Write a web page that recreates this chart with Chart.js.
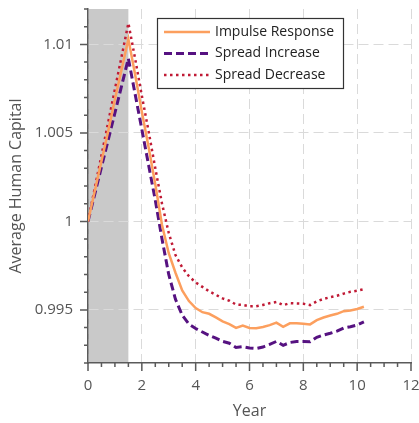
<!DOCTYPE html>
<html>
<head>
<meta charset="utf-8">
<script src="https://cdn.jsdelivr.net/npm/chart.js@4"></script>
<style>
  html, body { margin: 0; padding: 0; background: #fff; }
</style>
</head>
<body>
<canvas id="chart" width="419" height="423"></canvas>
<script>
// quarterly time points (years)
const years = [0, 0.25, 0.5, 0.75, 1, 1.25, 1.5, 1.75, 2, 2.25, 2.5, 2.75, 3, 3.25, 3.5, 3.75,
  4, 4.25, 4.5, 4.75, 5, 5.25, 5.5, 5.75, 6, 6.25, 6.5, 6.75, 7, 7.25, 7.5, 7.75,
  8, 8.25, 8.5, 8.75, 9, 9.25, 9.5, 9.75, 10, 10.25];

const impulseResponse = [1, 1.0017, 1.0034, 1.0051, 1.0069, 1.0086, 1.0103, 1.0083, 1.0062, 1.0042,
  1.0021, 0.9998, 0.9982, 0.9971, 0.9961, 0.9955, 0.9951, 0.99487, 0.99478, 0.99458, 0.99435,
  0.9942, 0.99398, 0.99412, 0.99398, 0.99396, 0.99403, 0.99414, 0.99428, 0.99404, 0.99424,
  0.99425, 0.99422, 0.99418, 0.99442, 0.99457, 0.99468, 0.99478, 0.99493, 0.99497, 0.99505, 0.99518];

const spreadIncrease = [1, 1.00153, 1.00307, 1.0046, 1.00613, 1.00767, 1.0092, 1.0072, 1.0052, 1.0032,
  1.0012, 0.999, 0.997, 0.9956, 0.9947, 0.9942, 0.99395, 0.99375, 0.99356, 0.9934, 0.99322,
  0.99312, 0.99288, 0.99292, 0.99285, 0.99282, 0.9929, 0.99305, 0.99322, 0.993, 0.99316,
  0.99322, 0.99322, 0.9932, 0.99345, 0.99358, 0.99368, 0.9938, 0.99398, 0.99405, 0.99415, 0.99432];

const spreadDecrease = [1, 1.00187, 1.00373, 1.0056, 1.00747, 1.00933, 1.0112, 1.0092, 1.0071, 1.0051,
  1.003, 1.001, 0.99935, 0.9981, 0.9974, 0.9969, 0.99655, 0.9963, 0.99605, 0.99585, 0.99565,
  0.99552, 0.9953, 0.99528, 0.9952, 0.99521, 0.99528, 0.99538, 0.99545, 0.99527, 0.99538,
  0.99536, 0.99535, 0.99527, 0.99548, 0.99562, 0.99572, 0.9958, 0.99592, 0.99602, 0.99608, 0.99617];

const seriesLabels = ["Impulse Response", "Spread Increase", "Spread Decrease"];
const xTicks = [0, 2, 4, 6, 8, 10, 12];
const yTicks = [0.995, 1, 1.005, 1.01];
const shadedYears = [0, 1.5];

const FONT = "'Open Sans', 'Noto Sans', sans-serif";
const AXIS_COLOR = "#5a5a5a";

function toPoints(vals) {
  return vals.map((v, i) => ({ x: years[i], y: v }));
}

// no extra room for overhanging tick labels, the plot box is fixed by layout padding
function noLabelPadding(s) {
  s.paddingTop = 0;
  s.paddingBottom = 0;
  s.paddingLeft = 0;
  s.paddingRight = 0;
}

// grey band, minor/major tick marks and the boxed legend
const decorations = {
  id: "decorations",
  beforeDraw(chart) {
    const { ctx, chartArea: a, scales: { x } } = chart;
    const x0 = x.getPixelForValue(shadedYears[0]);
    const x1 = x.getPixelForValue(shadedYears[1]);
    ctx.save();
    ctx.fillStyle = "#c9c9c9";
    ctx.fillRect(x0, a.top, x1 - x0, a.bottom - a.top);
    ctx.restore();
  },
  afterDraw(chart) {
    const { ctx, chartArea: a, scales: { x, y } } = chart;
    ctx.save();
    ctx.strokeStyle = AXIS_COLOR;
    ctx.lineWidth = 1.5;
    ctx.beginPath();
    // x ticks every half year, long ones at labelled years
    for (let i = 0; i <= 24; i++) {
      const px = x.getPixelForValue(i * 0.5);
      const len = i % 4 === 0 ? 8 : 4;
      ctx.moveTo(px, a.bottom);
      ctx.lineTo(px, a.bottom + len);
    }
    // y ticks every 0.001
    for (let k = 992; k <= 1012; k++) {
      const py = y.getPixelForValue(k / 1000);
      const len = k % 5 === 0 ? 8 : 4;
      ctx.moveTo(a.left, py);
      ctx.lineTo(a.left - len, py);
    }
    ctx.stroke();

    // legend
    const bx = 157.5, by = 18.5, bw = 186, bh = 70;
    ctx.fillStyle = "#fff";
    ctx.fillRect(bx, by, bw, bh);
    ctx.strokeStyle = "#333";
    ctx.lineWidth = 1.2;
    ctx.strokeRect(bx, by, bw, bh);
    ctx.font = "14px " + FONT;
    ctx.textBaseline = "middle";
    ctx.textAlign = "left";
    chart.data.datasets.forEach((ds, i) => {
      const ry = 32 + i * 21.5;
      ctx.beginPath();
      ctx.strokeStyle = ds.borderColor;
      ctx.lineWidth = ds.borderWidth;
      ctx.setLineDash(ds.borderDash || []);
      ctx.moveTo(164, ry);
      ctx.lineTo(210, ry);
      ctx.stroke();
      ctx.setLineDash([]);
      ctx.fillStyle = "#222";
      ctx.fillText(ds.label, 215, ry);
    });
    ctx.restore();
  }
};

new Chart(document.getElementById("chart"), {
  type: "line",
  data: {
    datasets: [
      {
        label: seriesLabels[0],
        data: toPoints(impulseResponse),
        borderColor: "#fc9f5e",
        borderWidth: 2.5,
        borderDash: []
      },
      {
        label: seriesLabels[1],
        data: toPoints(spreadIncrease),
        borderColor: "#561281",
        borderWidth: 3,
        borderDash: [8, 4]
      },
      {
        label: seriesLabels[2],
        data: toPoints(spreadDecrease),
        borderColor: "#c01a35",
        borderWidth: 2.5,
        borderDash: [2.5, 3.5]
      }
    ]
  },
  options: {
    responsive: false,
    animation: false,
    devicePixelRatio: 1,
    layout: { padding: { top: 9, right: 8, left: 0, bottom: 0 } },
    elements: {
      point: { radius: 0 },
      line: { tension: 0, fill: false }
    },
    plugins: {
      legend: { display: false },
      tooltip: { enabled: false }
    },
    scales: {
      x: {
        type: "linear",
        min: 0,
        max: 12,
        afterBuildTicks: (s) => { s.ticks = xTicks.map(v => ({ value: v })); },
        afterFit: (s) => { s.height = 60; noLabelPadding(s); },
        ticks: {
          color: "#555",
          font: { family: FONT, size: 15 },
          padding: 14,
          maxRotation: 0,
          callback: (v) => String(v)
        },
        grid: { color: "#dadada", lineWidth: 1, drawTicks: false },
        border: { display: true, color: AXIS_COLOR, width: 1.5, dash: [10, 5] },
        title: {
          display: true,
          text: "Year",
          color: "#555",
          font: { family: FONT, size: 16 },
          padding: { top: 0, bottom: 2 }
        }
      },
      y: {
        type: "linear",
        min: 0.992,
        max: 1.012,
        afterBuildTicks: (s) => { s.ticks = yTicks.map(v => ({ value: v })); },
        afterFit: (s) => { s.width = 88; noLabelPadding(s); },
        ticks: {
          color: "#555",
          font: { family: FONT, size: 15 },
          padding: 15,
          callback: (v) => String(+v.toFixed(3))
        },
        grid: { color: "#dadada", lineWidth: 1, drawTicks: false },
        border: { display: true, color: AXIS_COLOR, width: 1.5, dash: [10, 5] },
        title: {
          display: true,
          text: "Average Human Capital",
          color: "#555",
          font: { family: FONT, size: 16 },
          padding: { top: 7, bottom: 0 }
        }
      }
    }
  },
  plugins: [decorations]
});
</script>
</body>
</html>
